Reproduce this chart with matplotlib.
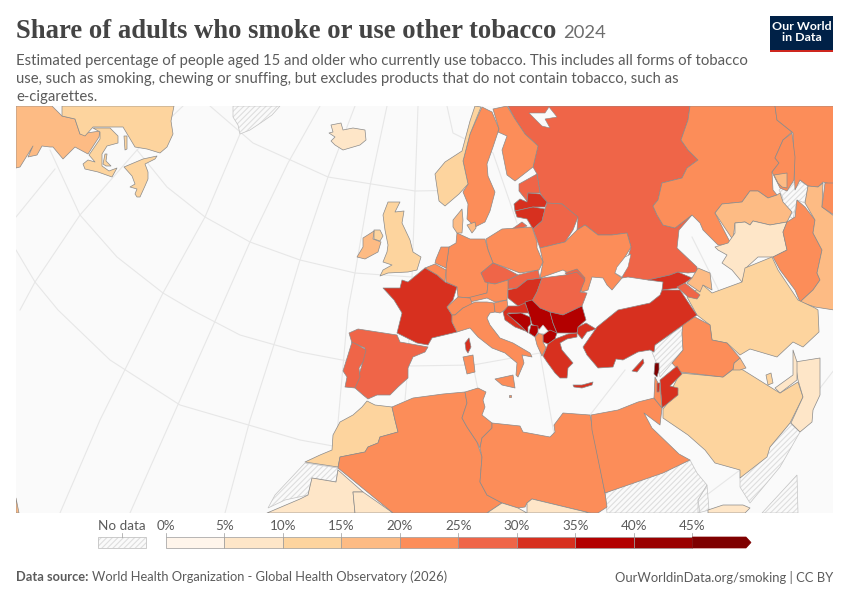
import matplotlib
matplotlib.use('Agg')
import matplotlib.pyplot as plt
from matplotlib.colors import BoundaryNorm, ListedColormap
from matplotlib.patches import Polygon, Rectangle

plt.rcParams['font.family'] = ['Lato', 'DejaVu Sans']
plt.rcParams['hatch.linewidth'] = 0.8

# legend bins and colours
bin_edges = [0, 5, 10, 15, 20, 25, 30, 35, 40, 45, 50]
bin_colors = ['#fff5eb', '#fee6c8', '#fdd49e', '#fdbb84', '#fc8d59',
              '#ef6548', '#d7301f', '#b30000', '#990000', '#7f0000']
bin_labels = ['0%', '5%', '10%', '15%', '20%', '25%', '30%', '35%', '40%', '45%']

# estimated share for each map region, read off the colour bands
shares = {
    'Alaska': 17, 'Canada': 12, 'Canada bay': 12, 'Canada isle': 12, 'Canada isle 2': 12,
    'Newfoundland': 12, 'Iceland': 8, 'UK': 12, 'N Ireland': 12, 'Ireland': 17,
    'Corner': 17, 'France': 32, 'Spain': 27, 'Portugal': 27, 'Morocco': 12,
    'Mauritania': 8, 'Mali': 8, 'Algeria': 22, 'Tunisia': 22, 'Libya': 22, 'Niger': 8,
    'Chad': 8, 'Egypt': 22, 'Saudi Arabia': 12, 'Oman': 8, 'UAE': 8, 'Qatar': 12,
    'Kuwait': 17, 'Iraq': 22, 'Jordan': 32, 'Lebanon': 46, 'Israel': 22, 'Palestine': 32,
    'Cyprus': 32, 'Turkey': 32, 'Turkey west': 32, 'Georgia': 32, 'Armenia': 27,
    'Azerbaijan': 17, 'Iran': 12, 'Turkmenistan': 8, 'Uzbekistan': 17, 'Kazakhstan': 22,
    'Mongolia': 22, 'Kyrgyzstan': 22, 'Tajikistan': 17, 'Pakistan': 22, 'India': 17,
    'Nepal': 22, 'Djibouti': 8, 'Russia': 27, 'Sweden': 22, 'Finland': 22, 'Norway': 12,
    'Estonia': 27, 'Latvia': 32, 'Lithuania': 32, 'Kaliningrad': 27, 'Belarus': 27,
    'Ukraine': 22, 'Poland': 22, 'Germany': 22, 'Denmark': 17, 'Zealand': 17,
    'Netherlands': 22, 'Belgium': 22, 'Czechia': 27, 'Slovakia': 27, 'Austria': 22,
    'Switzerland': 22, 'Hungary': 32, 'Romania': 27, 'Moldova': 27, 'Slovenia': 22,
    'Croatia': 32, 'Serbia': 37, 'Bulgaria': 37, 'Bosnia': 37, 'Montenegro': 37,
    'N Macedonia': 37, 'Albania': 22, 'Greece': 32, 'Crete': 32, 'Italy': 22,
    'Sicily': 22, 'Sardinia': 22, 'Corsica': 32, 'Malta': 22,
}

# traced outlines, in picture pixels
outlines = {
    'Alaska': [(16,106),(52,106),(62,116),(75,119),(80,134),(100,131),(99,137),(88,154),(75,147),(63,159),(53,147),(50,147),(42,146),(37,155),(28,157),(33,146),(20,167),(16,168)],
    'Canada': [(62,106),(174,106),(171,121),(173,134),(167,147),(160,153),(147,149),(135,147),(123,127),(93,127),(85,136),(80,134),(75,119),(62,116),(62,109)],
    'Canada bay': [(93,128),(110,128),(118,136),(118,143),(107,146),(102,154),(102,166),(109,171),(117,168),(112,177),(98,172),(85,169),(83,164),(88,160),(95,162),(89,155),(100,139),(100,132)],
    'Canada isle': [(103,164),(105,154),(107,154),(106,161),(111,166),(106,166)],
    'Canada isle 2': [(124,136),(127,136),(127,149),(125,150)],
    'Newfoundland': [(124,167),(143,159),(157,156),(155,159),(145,164),(148,172),(148,179),(145,186),(140,197),(137,197),(135,194),(137,189),(130,187),(135,184),(132,176)],
    'Iceland': [(331,125),(341,123),(343,130),(353,128),(365,130),(366,140),(360,145),(343,150),(335,145),(331,141),(335,137),(329,133),(333,132)],
    'UK': [(388,202),(400,202),(395,212),(404,211),(402,223),(410,240),(413,252),(421,257),(417,270),(408,272),(388,273),(380,276),(383,270),(392,265),(383,262),(387,252),(388,245),(385,230),(383,215)],
    'N Ireland': [(374,230),(380,230),(383,236),(380,241),(374,239)],
    'Ireland': [(374,231),(373,239),(381,242),(378,252),(365,259),(357,257),(363,247),(363,238)],
    'Corner': [(16,498),(19,513),(16,513)],
    'Russia': [(508,106),(690,106),(688,120),(681,140),(688,150),(698,160),(687,168),(682,178),(662,183),(658,200),(653,206),(657,215),(663,225),(675,228),(692,215),(679,230),(677,248),(697,267),(697,272),(688,273),(678,272),(670,275),(648,280),(628,277),(622,278),(631,247),(627,233),(612,235),(598,235),(585,225),(577,230),(578,218),(562,204),(547,203),(540,193),(537,174),(533,167),(538,146),(525,134),(515,119)],
    'Kazakhstan': [(690,106),(775,106),(777,120),(792,132),(783,140),(775,158),(779,163),(772,172),(773,190),(777,195),(768,198),(758,191),(750,191),(742,202),(722,204),(715,213),(730,242),(727,245),(718,245),(703,230),(700,223),(692,215),(675,228),(663,225),(657,215),(653,206),(658,200),(662,183),(682,178),(687,168),(698,160),(688,150),(681,140),(688,120)],
    'Mongolia': [(775,106),(834,106),(834,185),(823,182),(818,187),(808,186),(800,180),(795,190),(793,133),(792,132),(777,120)],
    'Kyrgyzstan': [(792,133),(795,157),(794,180),(787,191),(780,188),(772,172),(779,163),(775,158),(783,140)],
    'Tajikistan': [(774,175),(787,173),(787,188),(782,187),(778,183)],
    'Uzbekistan': [(715,213),(722,204),(742,202),(750,191),(758,191),(768,198),(777,195),(780,193),(783,202),(792,212),(787,222),(770,225),(753,221),(750,225),(745,222),(735,223),(733,240)],
    'Turkmenistan': [(735,223),(745,222),(750,225),(753,221),(770,225),(787,222),(783,232),(787,250),(773,257),(758,257),(747,267),(742,282),(732,270),(722,263),(727,255),(718,250),(715,247),(728,243),(735,233)],
    'Pakistan': [(787,222),(795,217),(797,200),(805,207),(815,220),(813,233),(822,250),(817,273),(820,280),(813,290),(800,302),(795,290),(780,270),(773,257),(787,250),(783,232)],
    'India': [(805,203),(808,186),(818,187),(823,183),(822,207),(834,216),(834,310),(815,307),(800,302),(813,290),(820,280),(817,273),(822,250),(813,233),(815,220)],
    'Nepal': [(825,183),(834,183),(834,215),(822,207)],
    'Iran': [(687,297),(703,285),(712,293),(742,282),(745,268),(772,257),(778,270),(798,300),(815,308),(818,310),(819,332),(803,347),(793,342),(777,357),(750,349),(740,355),(727,343),(712,340),(710,325),(697,315)],
    'Sweden': [(482,107),(492,112),(499,129),(498,132),(493,147),(487,164),(488,176),(495,192),(490,211),(485,222),(475,227),(467,219),(468,204),(463,192),(468,184),(463,161),(470,134)],
    'Finland': [(493,109),(507,106),(515,119),(525,134),(538,146),(533,167),(515,181),(507,175),(502,150),(507,136),(498,132),(499,129)],
    'Norway': [(475,106),(481,107),(470,134),(463,161),(468,184),(459,194),(445,206),(439,201),(435,174),(445,162),(462,151),(470,121)],
    'Estonia': [(519,184),(537,174),(540,193),(528,193),(527,201),(519,191)],
    'Latvia': [(528,193),(540,194),(547,202),(545,207),(533,207),(515,211),(514,204),(520,199),(527,202)],
    'Lithuania': [(515,211),(533,207),(545,209),(542,221),(533,229),(527,219),(517,217)],
    'Kaliningrad': [(512,229),(522,222),(527,226),(522,228)],
    'Belarus': [(547,203),(562,204),(578,217),(573,230),(565,242),(540,248),(533,229),(542,221),(545,209)],
    'Ukraine': [(540,248),(565,242),(577,230),(585,225),(598,235),(612,235),(627,233),(631,247),(625,257),(615,273),(622,278),(612,290),(607,285),(603,278),(592,277),(588,290),(582,292),(575,277),(563,270),(540,278),(543,262)],
    'Poland': [(486,239),(502,229),(532,227),(537,242),(537,248),(543,262),(539,270),(520,273),(507,268),(493,263),(488,250)],
    'Germany': [(457,233),(470,239),(485,239),(488,250),(493,263),(481,273),(488,283),(487,293),(470,298),(458,297),(457,287),(446,282),(446,267),(449,247),(456,243)],
    'Denmark': [(453,220),(462,209),(463,220),(462,233),(457,233),(453,227)],
    'Zealand': [(467,225),(475,222),(476,228),(472,233)],
    'Netherlands': [(436,259),(441,247),(449,247),(446,268),(435,263)],
    'Belgium': [(425,268),(435,264),(446,270),(445,282),(437,275)],
    'France': [(383,288),(400,288),(402,280),(408,282),(425,268),(437,275),(445,282),(457,287),(453,300),(447,307),(452,315),(452,322),(457,332),(432,338),(428,345),(417,343),(397,333),(402,313),(394,300)],
    'Spain': [(349,333),(358,329),(397,335),(400,342),(428,347),(425,352),(413,357),(408,368),(408,378),(398,387),(390,395),(377,395),(368,399),(363,395),(355,388),(358,378),(362,365),(363,353),(365,348),(358,345),(352,343)],
    'Portugal': [(352,342),(358,345),(366,350),(363,362),(359,368),(360,377),(355,388),(345,387),(347,377),(343,371),(348,355)],
    'Morocco': [(367,401),(375,405),(392,407),(395,420),(398,432),(380,437),(378,443),(368,447),(365,452),(340,457),(338,467),(305,462),(320,455),(332,450),(333,435),(340,422),(353,415),(362,407)],
    'Mauritania': [(312,478),(336,482),(338,470),(363,492),(353,492),(355,513),(267,513),(300,499),(308,495)],
    'Mali': [(353,492),(363,492),(393,513),(355,513)],
    'Algeria': [(392,407),(413,398),(443,394),(465,392),(467,403),(462,418),(467,427),(477,442),(482,457),(480,482),(487,495),(502,503),(487,513),(393,513),(338,468),(340,457),(365,452),(368,447),(378,443),(380,437),(398,432),(395,420)],
    'Tunisia': [(465,392),(478,388),(486,392),(483,400),(485,407),(482,415),(492,423),(492,428),(482,438),(480,448),(477,442),(467,427),(462,418),(467,403)],
    'Libya': [(492,423),(520,426),(523,432),(550,437),(555,432),(554,425),(563,413),(590,415),(592,425),(605,493),(607,507),(598,513),(590,513),(532,499),(527,503),(525,507),(518,508),(502,503),(487,495),(480,482),(482,457),(480,448),(482,438),(492,428)],
    'Niger': [(487,513),(502,503),(518,508),(527,513)],
    'Chad': [(527,513),(527,503),(532,499),(590,513)],
    'Egypt': [(591,415),(618,410),(638,402),(654,398),(662,408),(660,425),(644,413),(652,428),(679,454),(690,460),(663,473),(605,493),(592,430)],
    'Saudi Arabia': [(680,373),(723,377),(735,368),(743,370),(775,390),(780,393),(798,382),(803,397),(790,423),(770,447),(767,457),(740,478),(740,470),(715,463),(705,450),(688,435),(663,418),(663,409),(678,390),(673,387)],
    'Oman': [(795,362),(820,358),(820,395),(813,410),(812,422),(800,432),(791,423),(803,397),(798,380),(796,368)],
    'UAE': [(775,388),(793,375),(793,350),(797,362),(797,380),(780,393)],
    'Qatar': [(766,375),(771,373),(773,383),(768,385)],
    'Kuwait': [(740,358),(746,368),(740,370),(733,370),(734,363)],
    'Iraq': [(683,323),(695,317),(710,325),(712,340),(727,343),(740,358),(734,363),(733,369),(723,377),(680,372),(672,363),(683,350),(682,333)],
    'Jordan': [(677,366),(682,374),(670,386),(678,388),(678,395),(662,408),(660,380)],
    'Israel': [(655,377),(660,387),(662,408),(654,398)],
    'Palestine': [(657,383),(660,383),(659,392),(657,392)],
    'Lebanon': [(655,363),(659,363),(659,370),(657,377),(654,374)],
    'Cyprus': [(632,371),(643,359),(644,363),(637,372)],
    'Turkey': [(583,347),(597,327),(618,310),(650,303),(660,295),(662,290),(680,290),(692,308),(697,315),(683,325),(655,345),(654,352),(650,350),(638,352),(623,360),(616,359),(613,367),(598,368),(587,355)],
    'Turkey west': [(578,327),(586,323),(596,329),(587,332),(582,339),(577,333)],
    'Georgia': [(648,280),(670,275),(678,272),(692,278),(682,285),(678,288),(662,290),(663,282)],
    'Armenia': [(677,287),(685,283),(700,295),(697,299),(688,297)],
    'Azerbaijan': [(692,278),(698,268),(710,273),(712,290),(703,285),(700,292),(687,283)],
    'Czechia': [(481,273),(493,263),(505,268),(518,275),(508,280),(495,284),(485,282)],
    'Slovakia': [(518,275),(538,270),(540,278),(527,280),(517,288),(508,289),(508,280)],
    'Austria': [(488,283),(495,284),(508,280),(508,290),(507,300),(495,302),(487,298),(470,302),(467,298),(487,293)],
    'Switzerland': [(447,307),(458,297),(470,298),(473,305),(463,308),(455,315),(452,315)],
    'Hungary': [(508,290),(517,288),(527,280),(542,278),(537,292),(530,305),(518,306),(508,298)],
    'Moldova': [(565,273),(577,269),(585,278),(580,292),(576,282)],
    'Romania': [(542,278),(565,275),(577,272),(585,280),(580,292),(587,293),(582,306),(563,315),(550,312),(540,308),(530,305),(537,292)],
    'Italy': [(452,315),(455,315),(463,308),(475,302),(487,302),(494,303),(495,312),(490,313),(487,318),(490,325),(500,338),(513,343),(530,353),(532,357),(522,355),(524,363),(518,377),(516,375),(517,363),(505,353),(492,348),(478,337),(470,328),(457,332),(452,322)],
    'Sicily': [(495,379),(513,375),(515,388),(502,385)],
    'Sardinia': [(463,357),(473,355),(475,372),(467,374)],
    'Corsica': [(465,343),(469,338),(471,347),(468,353),(466,350)],
    'Malta': [(509,395),(511,395),(511,397),(509,397)],
    'Slovenia': [(494,303),(507,300),(508,308),(500,313),(495,312)],
    'Croatia': [(503,312),(508,306),(518,306),(525,303),(530,313),(520,313),(508,313),(516,322),(528,332),(515,327),(505,320)],
    'Serbia': [(525,302),(532,300),(540,308),(550,312),(553,323),(557,333),(548,331),(539,329),(532,324),(530,317)],
    'Bulgaria': [(550,312),(563,315),(582,306),(586,320),(578,327),(577,333),(568,333),(557,333),(553,323)],
    'Bosnia': [(507,314),(521,313),(530,317),(531,324),(528,327),(528,333),(520,325)],
    'Montenegro': [(531,325),(538,326),(538,332),(535,337),(529,333)],
    'N Macedonia': [(543,335),(550,330),(557,333),(555,339),(548,344),(543,342)],
    'Albania': [(535,337),(539,333),(543,335),(543,342),(546,348),(542,356),(537,345)],
    'Greece': [(543,356),(548,344),(555,339),(568,334),(577,333),(577,337),(567,339),(560,343),(562,350),(573,363),(568,368),(567,378),(560,378),(555,373),(547,362)],
    'Crete': [(573,385),(582,385),(593,382),(592,385),(582,388),(574,387)],
    'Djibouti': [(708,510),(723,505),(743,505),(750,508),(745,513),(708,513)],
}

# regions without data
no_data = [
    [(233,106),(280,106),(272,115),(262,122),(250,130),(240,134),(238,125),(233,117)],
    [(305,463),(338,468),(336,482),(312,478),(308,495),(285,500),(268,508),(275,495)],
    [(655,345),(680,328),(683,325),(682,333),(683,350),(672,363),(660,377),(658,367),(652,352)],
    [(605,493),(690,460),(697,473),(707,485),(698,500),(700,513),(607,513)],
    [(698,513),(698,500),(707,485),(709,510)],
    [(740,487),(740,478),(770,447),(790,423),(800,432),(780,467),(750,503)],
    [(762,513),(797,475),(798,513)],
    [(783,187),(800,180),(803,183),(808,186),(805,203),(797,200),(793,219),(780,208),(783,198),(779,190)],
    [(538,331),(543,325),(548,331),(544,334),(539,333)],
]

# water cut out of the land shapes
seas = [
    [(529,113),(545,113),(549,107),(557,117),(545,119),(550,128),(542,126)],
    [(631,254),(628,267),(622,277),(615,273),(617,267),(625,257)],
]

# graticule lines
graticule = [
    [(210,106),(253,143),(328,177),(415,191),(470,190)],
    [(50,150),(80,215),(117,257),(163,293),(192,310),(240,335),(300,352),(342,360),(408,366),(473,365),(540,353)],
    [(137,150),(167,187),(205,217),(250,242),(300,260),(355,273),(412,277),(470,275)],
    [(16,250),(35,282),(58,310),(110,360),(180,405),(300,440),(333,446)],
    [(183,106),(137,150),(80,215),(35,282),(20,310)],
    [(16,217),(55,169)],
    [(240,134),(205,217),(163,293),(100,420),(60,513)],
    [(320,106),(288,163),(250,242),(220,310),(180,400),(130,513)],
    [(355,106),(328,177),(300,260),(285,310),(250,420),(225,513)],
    [(387,106),(370,186),(355,273),(348,310),(340,400),(330,513)],
    [(418,106),(415,191),(412,277),(410,300),(408,366),(405,400)],
    [(447,106),(453,133),(493,153),(517,223)],
    [(473,365),(478,390)],
    [(540,353),(555,440)],
    [(590,415),(625,370)],
    [(692,237),(722,297)],
    [(760,392),(775,440)],
    [(834,370),(780,440),(700,500)],
]

# legend geometry
legend_x = [166, 224.5, 283, 341.5, 400, 458.5, 517, 575.5, 634, 692.5, 746]

BORDER = '#8a8a8a'
TEXT = '#5b5b5b'

fig = plt.figure(figsize=(8.5, 6), dpi=100)
ax = fig.add_axes([0, 0, 1, 1])
ax.set_xlim(0, 850)
ax.set_ylim(600, 0)
ax.axis('off')

map_rect = Rectangle((16, 106), 817.5, 407, facecolor='#fafafa', edgecolor='none', zorder=0)
ax.add_patch(map_rect)

for line in graticule:
    xs, ys = zip(*line)
    gl, = ax.plot(xs, ys, color='#e7e7e7', lw=0.8, zorder=1)
    gl.set_clip_path(map_rect)

cmap = ListedColormap(bin_colors)
norm = BoundaryNorm(bin_edges, cmap.N)

for name, pts in outlines.items():
    p = Polygon(pts, closed=True, facecolor=cmap(norm(shares[name])), edgecolor=BORDER,
                lw=0.5, joinstyle='round', zorder=3)
    ax.add_patch(p)
    p.set_clip_path(map_rect)

for pts in no_data:
    h = Polygon(pts, closed=True, facecolor='#fafafa', edgecolor='#dedede', hatch='//////', lw=0, zorder=2.5)
    ax.add_patch(h)
    h.set_clip_path(map_rect)
    o = Polygon(pts, closed=True, fill=False, edgecolor='#c4c4c4', lw=0.5, zorder=2.6)
    ax.add_patch(o)
    o.set_clip_path(map_rect)

# kosovo sits on top of the balkans
kosovo = no_data[-1]
ax.add_patch(Polygon(kosovo, closed=True, facecolor='#fafafa', edgecolor='#c4c4c4', lw=0.4, zorder=4))

for pts in seas:
    ax.add_patch(Polygon(pts, closed=True, facecolor='#fafafa', edgecolor=BORDER, lw=0.4, zorder=4))

# title block
r = fig.canvas.get_renderer()
title = ax.text(16, 31, 'Share of adults who smoke or use other tobacco', family='Liberation Serif',
                weight='bold', fontsize=19.15, color='#444444', va='center')
bb = title.get_window_extent(r)
ax.text(bb.x1 + 7, 33, '2024', fontsize=13.3, color='#6e6e6e', va='center')

subtitle_lines = [
    'Estimated percentage of people aged 15 and older who currently use tobacco. This includes all forms of tobacco',
    'use, such as smoking, chewing or snuffing, but excludes products that do not contain tobacco, such as',
    'e-cigarettes.',
]
for y, line in zip([61, 79.5, 97.5], subtitle_lines):
    ax.text(16, y, line, fontsize=10.72, color=TEXT, va='center')

# logo
ax.add_patch(Rectangle((770, 16), 63.5, 36, facecolor='#002147', edgecolor='none'))
ax.add_patch(Rectangle((770, 49.5), 63.5, 2.5, facecolor='#ce261e', edgecolor='none'))
ax.text(801.7, 32, 'Our World\nin Data', color='white', weight='bold', fontsize=8.9,
        ha='center', va='center', linespacing=0.95)

# legend
for i in range(10):
    if i < 9:
        ax.add_patch(Rectangle((legend_x[i], 537), legend_x[i + 1] - legend_x[i], 11,
                               facecolor=bin_colors[i], edgecolor='#9a9a9a', lw=0.5, zorder=5))
    else:
        ax.add_patch(Polygon([(legend_x[9], 537), (746, 537), (751, 542.5), (746, 548), (legend_x[9], 548)],
                             closed=True, facecolor=bin_colors[9], edgecolor='#7f0000', lw=0.5, zorder=5))
    ax.plot([legend_x[i], legend_x[i]], [533, 537], color='#9a9a9a', lw=0.5, zorder=4)
    ax.text(legend_x[i], 525.5, bin_labels[i], ha='center', va='center', fontsize=9.7, color=TEXT)

ax.add_patch(Rectangle((98, 537), 48.5, 11, facecolor='#fafafa', edgecolor='#dedede', hatch='//////', lw=0))
ax.add_patch(Rectangle((98, 537), 48.5, 11, fill=False, edgecolor='#c4c4c4', lw=0.6))
ax.plot([122, 122], [533, 537], color='#9a9a9a', lw=0.5)
ax.text(122, 525.5, 'No data', ha='center', va='center', fontsize=9.7, color=TEXT)

# footer
src = ax.text(16, 577, 'Data source:', weight='bold', fontsize=9.3, color=TEXT, va='center')
bb = src.get_window_extent(r)
ax.text(bb.x1 + 3.5, 577, 'World Health Organization - Global Health Observatory (2026)',
        fontsize=9.3, color=TEXT, va='center')
ax.text(833.5, 577, 'OurWorldinData.org/smoking | CC BY', fontsize=9.35, color=TEXT, va='center', ha='right')

fig.savefig('out.png', dpi=100, facecolor='white')
